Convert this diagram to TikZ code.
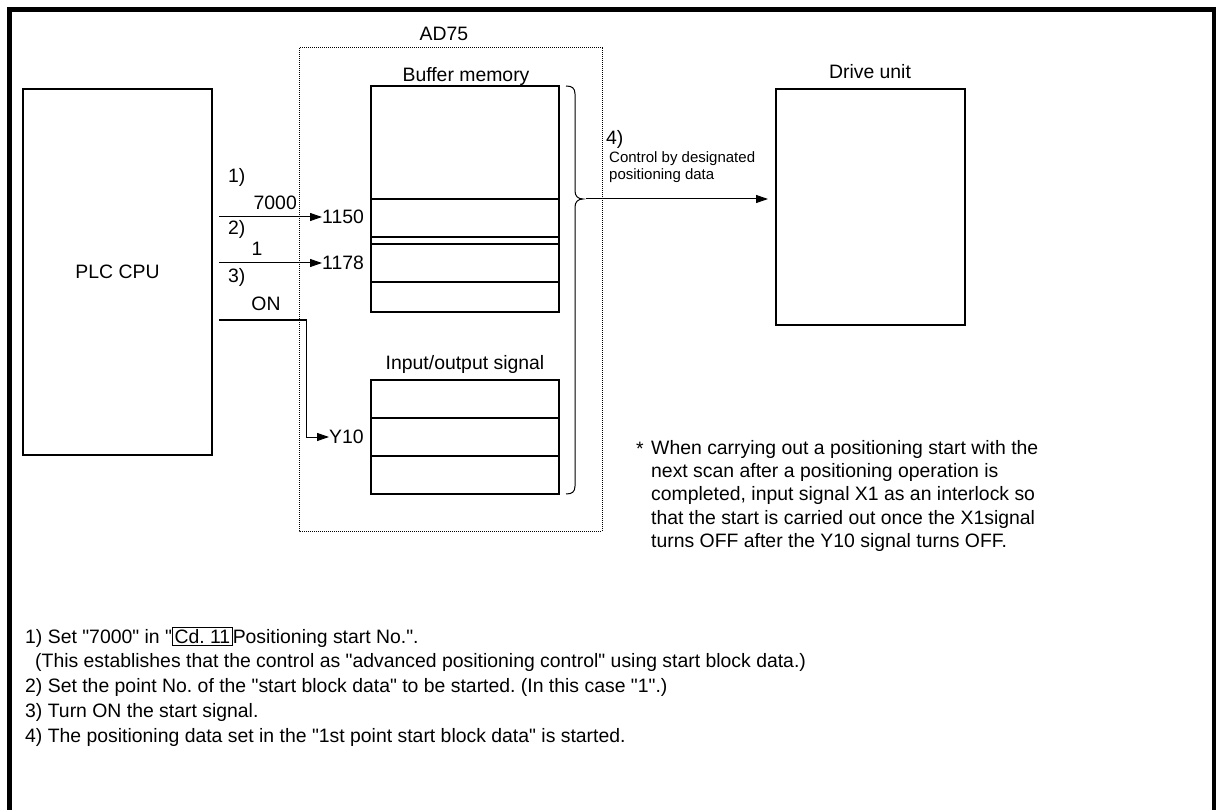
\documentclass[tikz,border=0pt]{standalone}
\usepackage{fontspec}
\setmainfont{Liberation Sans}[Ligatures=TeXOff]
\usetikzlibrary{arrows.meta}
\frenchspacing
\begin{document}
\begin{tikzpicture}[x=1pt,y=-1pt,
  box/.style={draw, line width=1.1pt},
  txt/.style={font=\fontsize{19.4}{23.3}\selectfont, inner sep=0pt},
  small/.style={font=\fontsize{15}{17.5}\selectfont, inner sep=0pt, align=left},
  arr/.style={-{Triangle[length=12pt,width=8pt]}, line width=1pt},
  dotbox/.style={draw, densely dotted, line width=1pt},
]
\useasboundingbox (0,0) rectangle (1218,810);
\fill[white] (0,0) rectangle (1218,810);
% frame
\draw[line width=4.5pt] (9.5,810) -- (9.5,9.5) -- (1214,9.5) -- (1214,810);

% PLC CPU
\draw[box] (23,89) rectangle (212,455);
\node[txt] (plc) at (117.5,272) {PLC CPU};

% AD75 dotted box
\draw[dotbox] (299,48) rectangle (602,531);
\node[txt] (ad75) at (444,34) {AD75};

% Buffer memory
\node[txt] (buflbl) at (466,76) {Buffer memory};
\draw[box] (371,86) rectangle (559,312);
\draw[box] (371,199) -- (559,199);
\draw[box] (371,237) -- (559,237);
\draw[box] (371,244) -- (559,244);
\draw[box] (371,282) -- (559,282);

% Input/output signal
\node[txt] (iolbl) at (465,364) {Input/output signal};
\draw[box] (371,380) rectangle (559,494);
\draw[box] (371,418) -- (559,418);
\draw[box] (371,456) -- (559,456);

% brace
\draw[line width=1pt] (566,86) .. controls (572,86) and (575,88) .. (575,94)
  -- (575,191) .. controls (575,196) and (578,199) .. (583,199)
  .. controls (578,199) and (575,202) .. (575,207)
  -- (575,486) .. controls (575,492) and (572,494) .. (566,494);
\coordinate (btip) at (586,199);

% Drive unit
\node[txt] (drvlbl) at (870,72) {Drive unit};
\draw[box] (776,89) rectangle (965,325);
\coordinate (drvin) at (768,199);
\draw[arr] (btip) -- (drvin);
\node[txt, anchor=west] (c4) at (606,139) {4)};
\node[small, anchor=north west] (ctl) at (609,151) {Control by designated\\positioning data};

% left signals
\node[txt, anchor=west] (l1) at (228,177) {1)};
\node[txt, anchor=east] (v7000) at (297,203) {7000};
\coordinate (s1) at (219,217);
\node[txt, anchor=west] (n1150) at (322,217) {1150};
\draw[arr] (s1) -- (n1150.west);

\node[txt, anchor=west] (l2) at (228,229) {2)};
\node[txt] (v1) at (257,249) {1};
\coordinate (s2) at (219,263);
\node[txt, anchor=west] (n1178) at (322,263) {1178};
\draw[arr] (s2) -- (n1178.west);

\node[txt, anchor=west] (l3) at (228,277) {3)};
\node[txt] (von) at (266,304) {ON};
\coordinate (s3) at (219,320);
\coordinate (k3) at (306,320);
\node[txt, anchor=west] (y10) at (329,437) {Y10};
\draw[arr] (s3) -- (k3) |- (y10.west);

% note
\node[txt, anchor=west] (star) at (636,449) {*};
\node[txt, anchor=north west, align=left] (note) at (651,440) {When carrying out a positioning start with the\\
next scan after a positioning operation is\\
completed, input signal X1 as an interlock so\\
that the start is carried out once the X1signal\\
turns OFF after the Y10 signal turns OFF.};

% bottom explanations
\node[txt, anchor=west] (e1) at (25,637) {1) Set "7000" in "{\setlength{\fboxsep}{1.5pt}\setlength{\fboxrule}{1pt}\fbox{Cd. 11}}Positioning start No.".};
\node[txt, anchor=west] (e1b) at (35,662) {(This establishes that the control as "advanced positioning control" using start block data.)};
\node[txt, anchor=west] (e2) at (25,687) {2) Set the point No. of the "start block data" to be started. (In this case "1".)};
\node[txt, anchor=west] (e3) at (25,712) {3) Turn ON the start signal.};
\node[txt, anchor=west] (e4) at (25,737) {4) The positioning data set in the "1st point start block data" is started.};
\end{tikzpicture}
\end{document}
